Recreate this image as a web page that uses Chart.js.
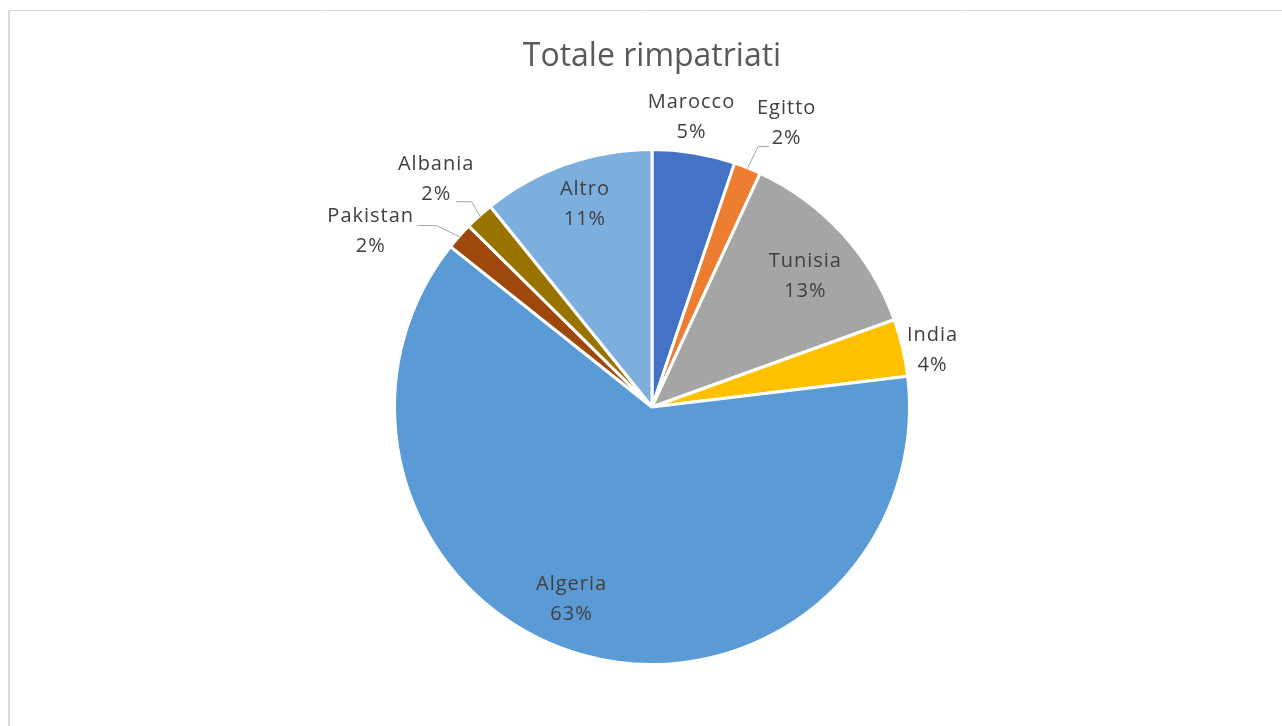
<!DOCTYPE html>
<html>
<head>
<meta charset="utf-8">
<script src="https://cdn.jsdelivr.net/npm/chart.js@4.4.1/dist/chart.umd.min.js"></script>
<style>
  html, body { margin: 0; padding: 0; background: #fff; }
  #wrap { width: 1282px; height: 726px; position: relative; }
</style>
</head>
<body>
<div id="wrap"><canvas id="pie"></canvas></div>
<script>
// data (share of total, %)
var countries = ['Marocco', 'Egitto', 'Tunisia', 'India', 'Algeria', 'Pakistan', 'Albania', 'Altro'];
var shares = [5.2, 1.7, 12.6, 3.6, 62.6, 1.7, 1.8, 10.8];

var colors = ['#4472C4', '#ED7D31', '#A5A5A5', '#FFC000', '#5B9BD5', '#9E480E', '#997300', '#7CAFDD'];

// label placement: radius factor and angle nudge (deg) from slice middle
var labelPlace = [
  { r: 1.135, da: -1.7 },
  { r: 1.22, da: 3.5, lead: { side: 'left', line: 1, dy: 8, a: 2, b: 13 } },
  { r: 0.78, da: 2 },
  { r: 1.11, da: 1.8 },
  { r: 0.81, da: 7 },
  { r: 1.29, da: -9.6, lead: { side: 'right', line: 0, dy: 9, a: 4, b: 23 } },
  { r: 1.22, da: -1.4, lead: { side: 'right', line: 1, dy: 7, a: 5, b: 21 } },
  { r: 0.83, da: 1 }
];

var framePlugin = {
  id: 'frame',
  beforeDraw: function (chart) {
    var ctx = chart.ctx;
    ctx.save();
    ctx.fillStyle = '#fff';
    ctx.fillRect(0, 0, chart.width, chart.height);
    ctx.strokeStyle = '#d9d9d9';
    ctx.lineWidth = 1;
    ctx.beginPath();
    ctx.moveTo(chart.width + 5, 10.5);
    ctx.lineTo(9.5, 10.5);
    ctx.lineTo(9.5, chart.height + 5);
    ctx.stroke();
    ctx.fillStyle = '#d9d9d9';
    ctx.fillRect(8, 10, 2, chart.height);
    ctx.restore();
  }
};

var labelPlugin = {
  id: 'sliceLabels',
  afterDatasetsDraw: function (chart) {
    var ctx = chart.ctx,
      meta = chart.getDatasetMeta(0),
      data = chart.data.datasets[0].data,
      total = data.reduce(function (a, b) { return a + b; }, 0);
    ctx.save();
    ctx.font = '20px "Open Sans"';
    ctx.letterSpacing = '1px';
    ctx.fillStyle = '#404040';
    ctx.textAlign = 'center';
    ctx.textBaseline = 'middle';
    meta.data.forEach(function (arc, i) {
      var p = labelPlace[i];
      var mid = (arc.startAngle + arc.endAngle) / 2;
      var ang = mid + p.da * Math.PI / 180;
      var r = arc.outerRadius * p.r;
      var x = arc.x + Math.cos(ang) * r,
        y = arc.y + Math.sin(ang) * r;
      var lines = [countries[i], Math.round(data[i] / total * 100) + '%'];
      ctx.fillText(lines[0], x + 0.5, y - 15);
      ctx.fillText(lines[1], x + 0.5, y + 15);
      if (p.lead) {
        var L = p.lead;
        var w = ctx.measureText(lines[L.line]).width;
        var ly = (L.line ? y + 15 : y - 15) + L.dy;
        var x0, x1;
        if (L.side === 'left') {
          x0 = x - w / 2 - L.a;
          x1 = x - w / 2 - L.b;
        } else {
          x0 = x + w / 2 + L.a;
          x1 = x + w / 2 + L.b;
        }
        var ex = arc.x + Math.cos(mid) * (arc.outerRadius - 2),
          ey = arc.y + Math.sin(mid) * (arc.outerRadius - 2);
        ctx.strokeStyle = '#a6a6a6';
        ctx.lineWidth = 1;
        ctx.beginPath();
        ctx.moveTo(x0, ly + 0.5);
        ctx.lineTo(x1, ly + 0.5);
        ctx.lineTo(ex, ey);
        ctx.stroke();
      }
    });
    ctx.restore();
  }
};

var ctx = document.getElementById('pie').getContext('2d');
var chart = new Chart(ctx, {
  type: 'pie',
  data: {
    labels: countries,
    datasets: [
      {
        data: shares,
        backgroundColor: colors,
        borderColor: '#ffffff',
        borderWidth: 3
      }
    ]
  },
  options: {
    responsive: true,
    maintainAspectRatio: false,
    animation: false,
    events: [],
    layout: { padding: { left: 393, right: 371, top: 0, bottom: 60 } },
    plugins: {
      legend: { display: false },
      tooltip: { enabled: false },
      title: {
        display: true,
        text: 'Totale rimpatriati',
        color: '#595959',
        font: { family: '"Open Sans"', size: 32, weight: 'normal' },
        padding: { top: 38, bottom: 71.6 }
      }
    }
  },
  plugins: [framePlugin, labelPlugin]
});
</script>
</body>
</html>
